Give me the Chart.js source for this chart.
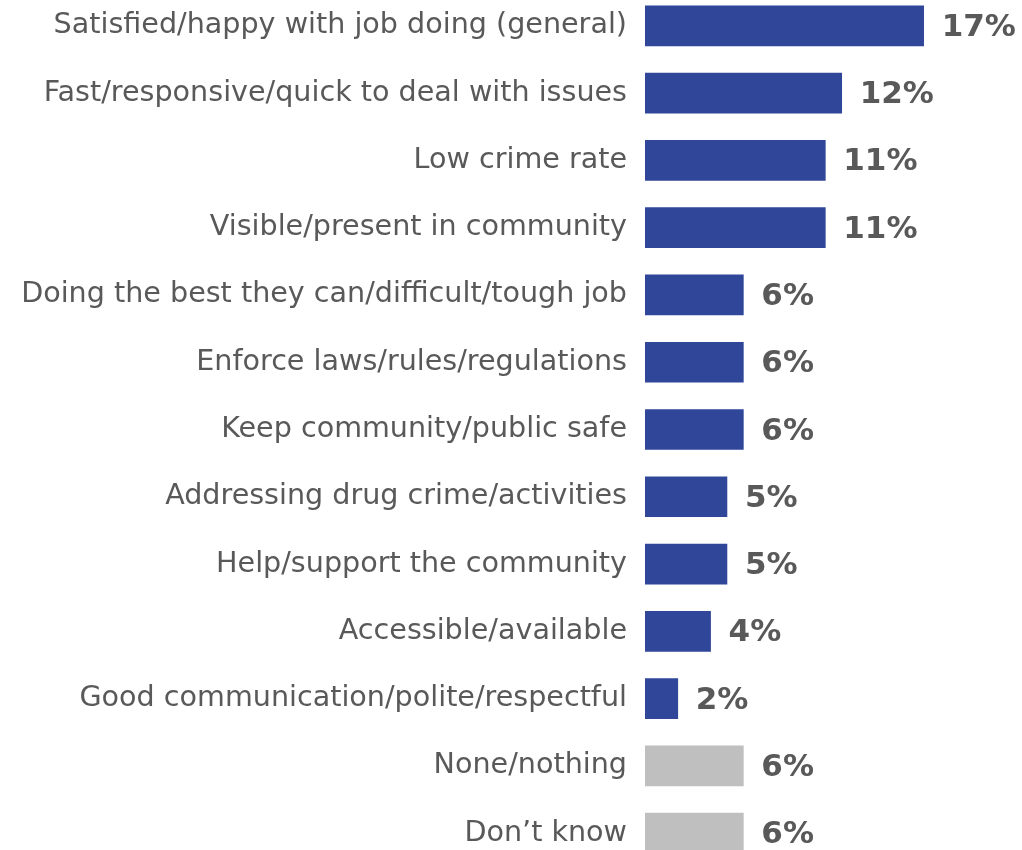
<!DOCTYPE html>
<html lang="en">
<head>
  <meta charset="UTF-8" />
  <title>Positive comments about police</title>
  <script src="https://cdn.jsdelivr.net/npm/chart.js"></script>
  <style>
    body {
      margin: 0;
      background: white;
      overflow: hidden;
    }

    .wrap {
      position: absolute;
      left: 0;
      top: -43px;
      width: 1022px;
      height: 945px;
    }
  </style>
</head>
<body>
  <div class="wrap">
    <canvas id="reasonsChart"></canvas>
  </div>

  <script>
    const reasons = [
      'Satisfied/happy with job doing (general)',
      'Fast/responsive/quick to deal with issues',
      'Low crime rate',
      'Visible/present in community',
      'Doing the best they can/difficult/tough job',
      'Enforce laws/rules/regulations',
      'Keep community/public safe',
      'Addressing drug crime/activities',
      'Help/support the community',
      'Accessible/available',
      'Good communication/polite/respectful',
      'None/nothing',
      'Don\u2019t know'
    ];
    const percents = [17, 12, 11, 11, 6, 6, 6, 5, 5, 4, 2, 6, 6];
    // last two rows are non-answers, shown in grey
    const barColors = reasons.map((r, i) => i >= 11 ? '#BFBFBF' : '#2F4699');

    // writes "NN%" just past the end of each bar
    const valueLabels = {
      id: 'valueLabels',
      afterDatasetsDraw(chart) {
        const ctx = chart.ctx;
        const meta = chart.getDatasetMeta(0);
        ctx.save();
        ctx.font = 'bold 31px "DejaVu Sans"';
        ctx.fillStyle = '#595959';
        ctx.textBaseline = 'middle';
        ctx.textAlign = 'left';
        meta.data.forEach((bar, i) => {
          ctx.fillText(percents[i] + '%', bar.x + 18, bar.y + 2);
        });
        ctx.restore();
      }
    };

    new Chart(document.getElementById('reasonsChart'), {
      type: 'bar',
      data: {
        labels: reasons,
        datasets: [{
          data: percents,
          backgroundColor: barColors,
          barThickness: 40,
          categoryPercentage: 1
        }]
      },
      options: {
        indexAxis: 'y',
        responsive: true,
        maintainAspectRatio: false,
        animation: false,
        layout: { padding: 0 },
        plugins: {
          legend: { display: false },
          tooltip: { enabled: false }
        },
        scales: {
          x: {
            display: false,
            min: 0,
            max: 23
          },
          y: {
            afterFit(scale) { scale.width = 645; },
            grid: { display: false, drawTicks: false },
            border: { display: false },
            ticks: {
              padding: 18,
              color: '#595959',
              font: { family: 'DejaVu Sans', size: 28.6 }
            }
          }
        }
      },
      plugins: [valueLabels]
    });
  </script>
</body>
</html>
